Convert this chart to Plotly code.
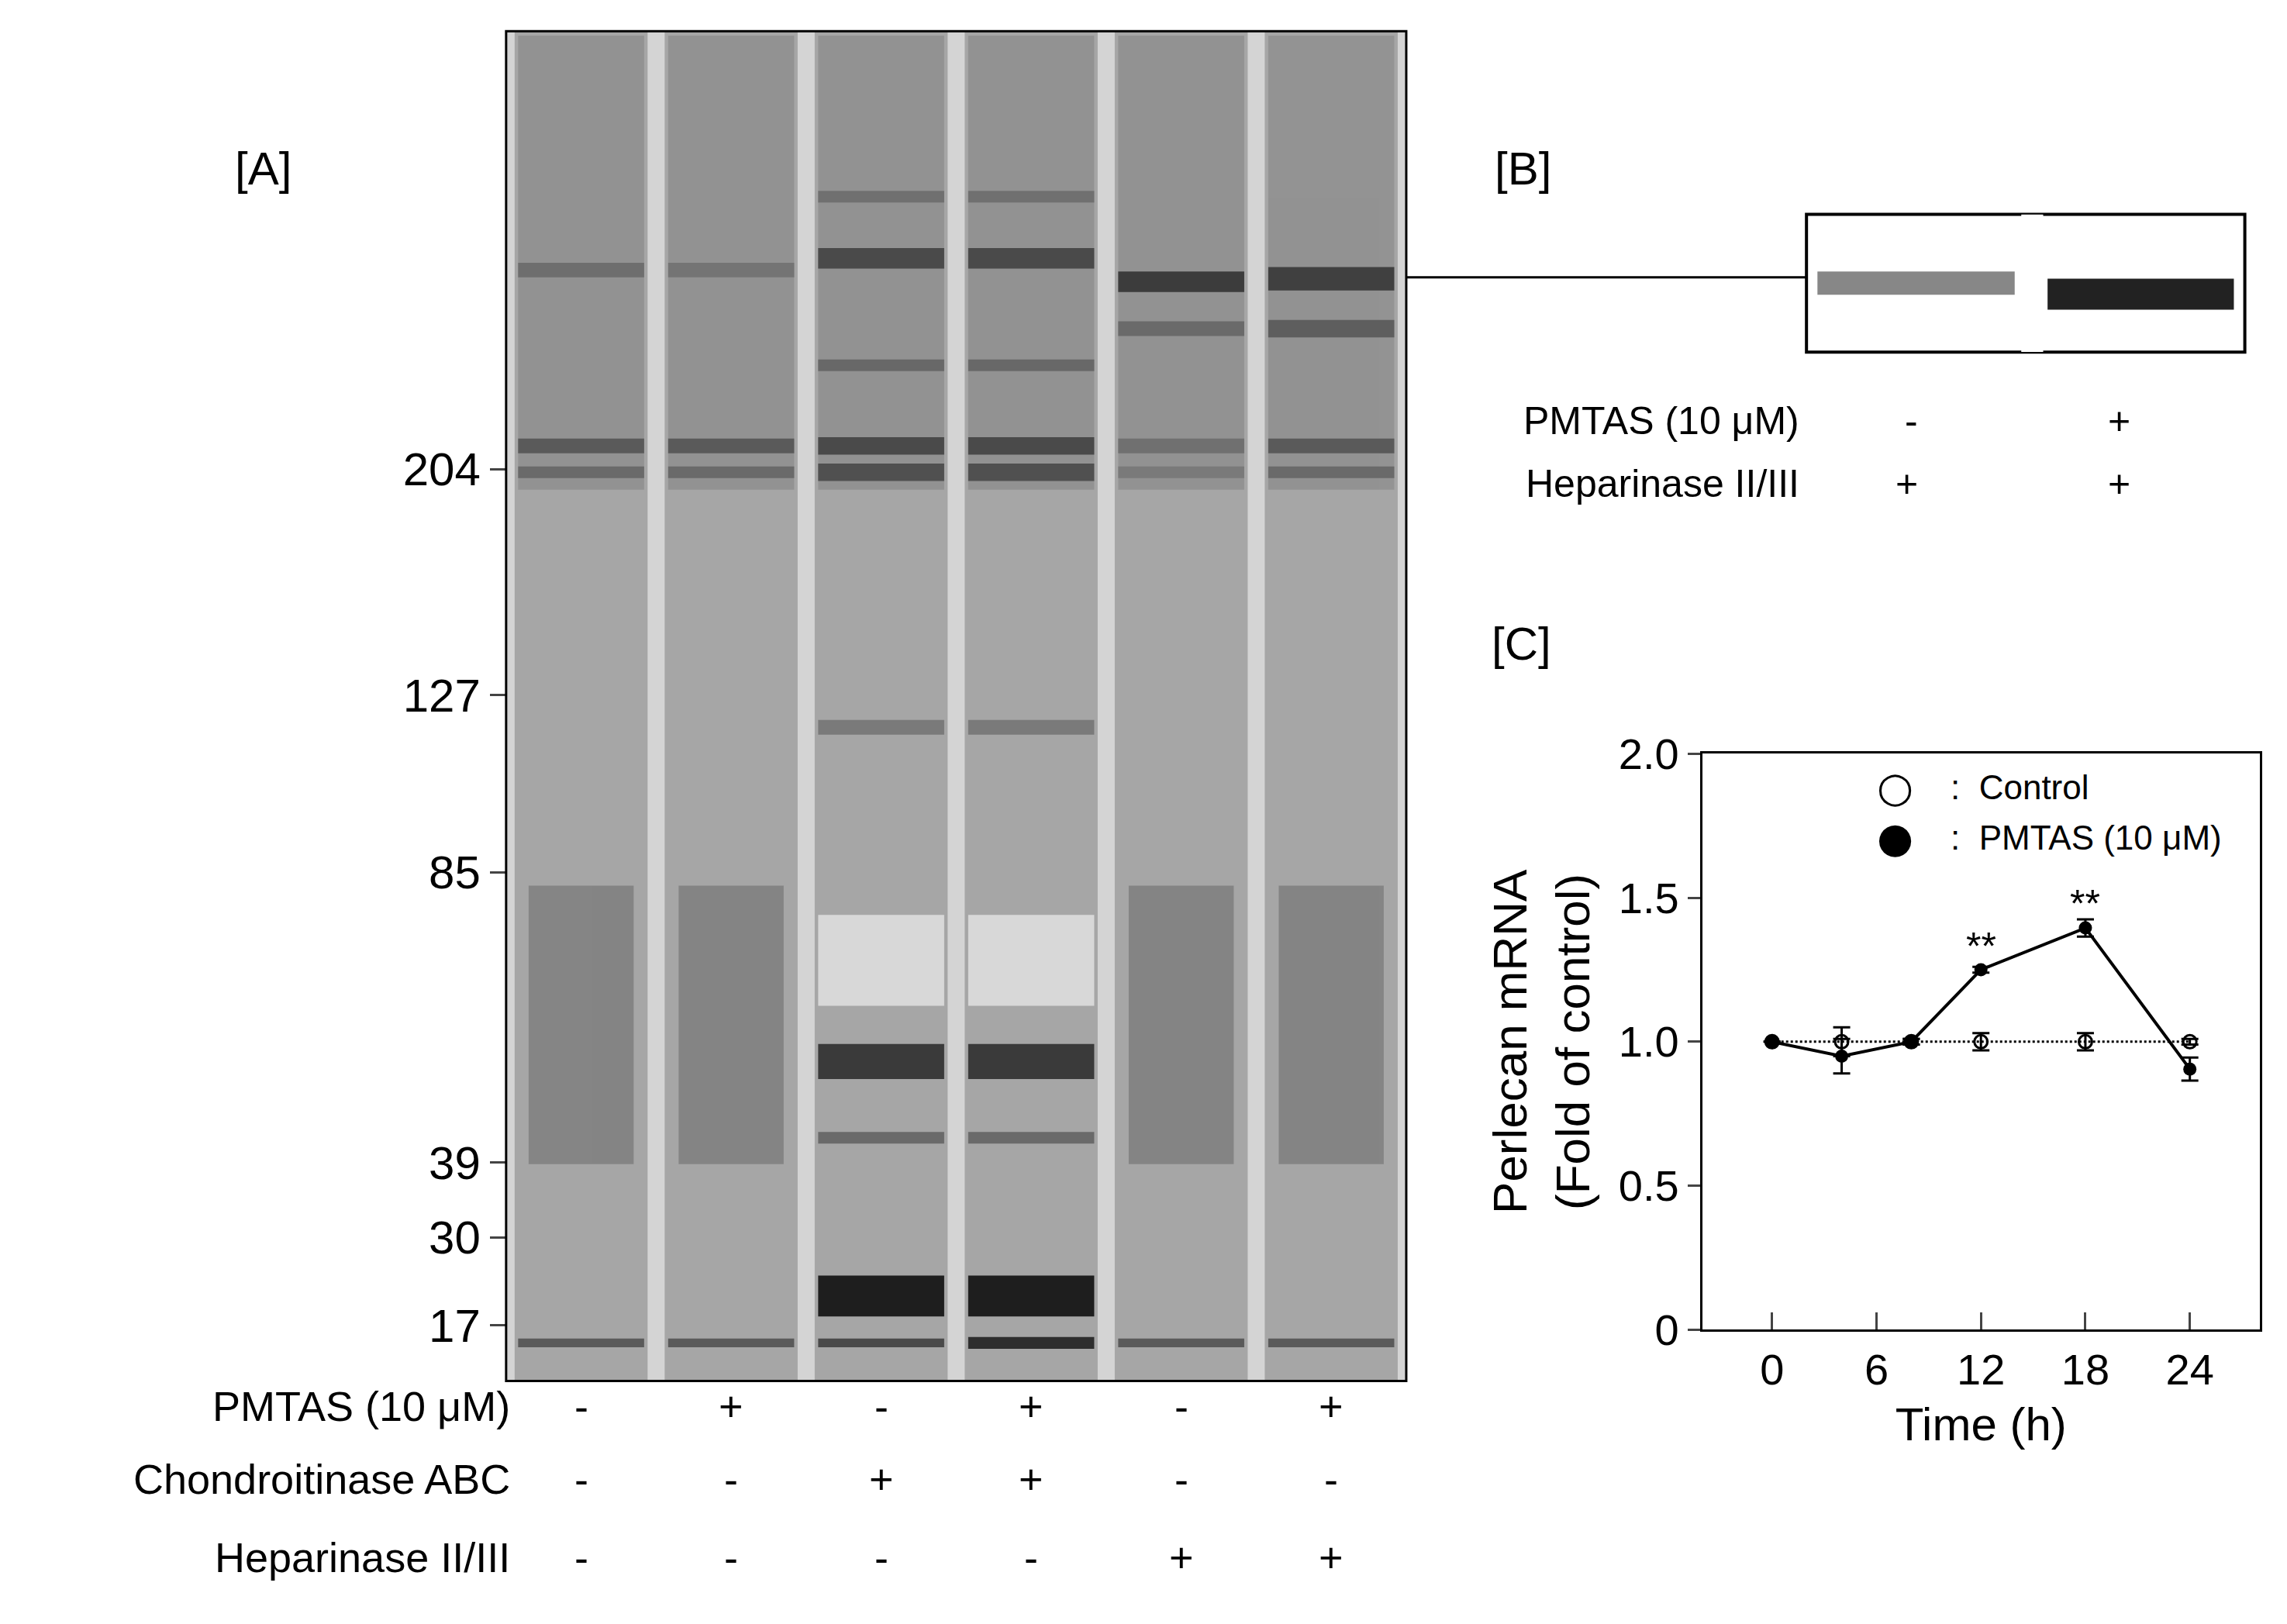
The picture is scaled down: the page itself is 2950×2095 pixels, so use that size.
import plotly.graph_objects as go

# ---- panel C data ----
time_h = [0, 4, 8, 12, 18, 24]
control = [1.0, 1.0, 1.0, 1.0, 1.0, 1.0]
control_err = [0.0, 0.05, 0.01, 0.03, 0.03, 0.01]
pmtas = [1.0, 0.95, 1.0, 1.25, 1.395, 0.905]
pmtas_err = [0.0, 0.06, 0.01, 0.01, 0.03, 0.04]
signif_x = [12, 18]
signif_y = [1.33, 1.48]

# ---- panel A gel (positions in reference pixel rows) ----
lanes = [1, 2, 3, 4, 5, 6]
marker_kda = ["204", "127", "85", "39", "30", "17"]
marker_row = [316, 470, 591, 789, 840, 900]
# (lane, row, thickness, colour)
gel_bands = [
    (1, 180, 10, "#6e6e6e"), (2, 180, 10, "#747474"), (3, 172, 14, "#4a4a4a"),
    (4, 172, 14, "#4a4a4a"), (5, 188, 14, "#3c3c3c"), (6, 186, 16, "#404040"),
    (1, 300, 10, "#5a5a5a"), (2, 300, 10, "#5a5a5a"), (3, 300, 12, "#4a4a4a"),
    (4, 300, 12, "#4a4a4a"), (5, 300, 10, "#707070"), (6, 300, 10, "#5a5a5a"),
    (1, 318, 8, "#6a6a6a"), (2, 318, 8, "#6a6a6a"), (3, 318, 12, "#505050"),
    (4, 318, 12, "#505050"), (5, 318, 8, "#7a7a7a"), (6, 318, 8, "#6a6a6a"),
    (3, 130, 8, "#707070"), (4, 130, 8, "#707070"), (3, 245, 8, "#686868"), (4, 245, 8, "#686868"),
    (5, 220, 10, "#6a6a6a"), (6, 220, 12, "#5e5e5e"),
    (3, 492, 10, "#7a7a7a"), (4, 492, 10, "#7a7a7a"),
    (3, 720, 24, "#3a3a3a"), (4, 720, 24, "#3a3a3a"),
    (3, 772, 8, "#6a6a6a"), (4, 772, 8, "#6a6a6a"),
    (3, 880, 28, "#1e1e1e"), (4, 880, 28, "#1e1e1e"),
    (1, 912, 6, "#5a5a5a"), (2, 912, 6, "#5a5a5a"), (3, 912, 6, "#4a4a4a"),
    (4, 912, 8, "#2e2e2e"), (5, 912, 6, "#5a5a5a"), (6, 912, 6, "#5a5a5a"),
]
upper_shade_top, upper_shade_bottom = 20, 330
smear_lanes = [1, 2, 5, 6]
smear_top, smear_bottom = 600, 790
clear_lanes = [3, 4]
clear_top, clear_bottom = 620, 682

row_labels = ["PMTAS (10 μM)", "Chondroitinase ABC", "Heparinase II/III"]
row_y = [972, 1022, 1075]
signs = [["-", "+", "-", "+", "-", "+"],
         ["-", "-", "+", "+", "-", "-"],
         ["-", "-", "-", "-", "+", "+"]]

# ---- panel B ----
b_labels = ["PMTAS (10 μM)", "Heparinase II/III"]
b_row_y = [267, 310]
b_signs = [["-", "+"], ["+", "+"]]

W, H = 1560, 1108  # reference display units
def px(x): return x / W
def py(y): return 1 - y / H

FONT = "Arial, Liberation Sans, sans-serif"
fig = go.Figure()

# gel lanes
for ln in lanes:
    fig.add_trace(go.Scatter(x=[ln - 0.42, ln + 0.42], y=[(upper_shade_top + upper_shade_bottom) / 2] * 2,
                             mode="lines", line=dict(color="#7c7c7c", width=(upper_shade_bottom - upper_shade_top) * 1.89),
                             opacity=0.45, xaxis="x2", yaxis="y2", hoverinfo="skip", showlegend=False))
for i in range(len(lanes) + 1):
    fig.add_trace(go.Scatter(x=[0.5 + i, 0.5 + i], y=[17, 938], mode="lines",
                             line=dict(color="#d4d4d4", width=22), xaxis="x2", yaxis="y2",
                             hoverinfo="skip", showlegend=False))
for ln in smear_lanes:
    fig.add_trace(go.Scatter(x=[ln - 0.35, ln + 0.35], y=[(smear_top + smear_bottom) / 2] * 2,
                             mode="lines", line=dict(color="#6a6a6a", width=(smear_bottom - smear_top) * 1.89),
                             opacity=0.55, xaxis="x2", yaxis="y2", hoverinfo="skip", showlegend=False))
for ln in clear_lanes:
    fig.add_trace(go.Scatter(x=[ln - 0.42, ln + 0.42], y=[(clear_top + clear_bottom) / 2] * 2,
                             mode="lines", line=dict(color="#d8d8d8", width=(clear_bottom - clear_top) * 1.89),
                             xaxis="x2", yaxis="y2", hoverinfo="skip", showlegend=False))
for ln, row, th, col in gel_bands:
    fig.add_trace(go.Scatter(x=[ln - 0.42, ln + 0.42], y=[row, row], mode="lines",
                             line=dict(color=col, width=th * 1.89), xaxis="x2", yaxis="y2",
                             hoverinfo="skip", showlegend=False))

# panel B blot
fig.add_trace(go.Scatter(x=[0.05, 0.95], y=[0.5, 0.5], mode="lines", line=dict(color="#555", width=30),
                         opacity=0.7, xaxis="x3", yaxis="y3", hoverinfo="skip", showlegend=False))
fig.add_trace(go.Scatter(x=[1.1, 1.95], y=[0.42, 0.42], mode="lines", line=dict(color="#222", width=40),
                         xaxis="x3", yaxis="y3", hoverinfo="skip", showlegend=False))

# panel C
fig.add_trace(go.Scatter(x=time_h, y=control, mode="lines+markers", name="Control",
                         line=dict(color="black", width=3, dash="dot"),
                         marker=dict(symbol="circle-open", size=17, color="black", line=dict(width=3)),
                         error_y=dict(type="data", array=control_err, color="black", thickness=3, width=11),
                         showlegend=False))
fig.add_trace(go.Scatter(x=time_h, y=pmtas, mode="lines+markers", name="PMTAS (10 μM)",
                         line=dict(color="black", width=4),
                         marker=dict(symbol="circle", size=17, color="black"),
                         error_y=dict(type="data", array=pmtas_err, color="black", thickness=3, width=11),
                         showlegend=False))
for sx, sy in zip(signif_x, signif_y):
    fig.add_annotation(x=sx, y=sy, text="**", showarrow=False, font=dict(size=50, family=FONT, color="black"))

ann = []
big = 60
for t, x, y in [("[A]", 155, 92), ("[B]", 1055, 92), ("[C]", 1055, 435)]:
    ann.append(dict(x=px(x), y=py(y), xref="paper", yref="paper", text=t, showarrow=False,
                    font=dict(size=big, family=FONT)))
for lbl, y in zip(row_labels, row_y):
    ann.append(dict(x=px(345), y=py(y), xref="paper", yref="paper", text=lbl, showarrow=False,
                    xanchor="right", font=dict(size=54, family=FONT)))
for srow, y in zip(signs, row_y):
    for ln, s in zip(lanes, srow):
        ann.append(dict(x=ln, y=py(y), xref="x2", yref="paper", text=s, showarrow=False,
                        font=dict(size=54, family=FONT)))
for lbl, y, srow in zip(b_labels, b_row_y, b_signs):
    ann.append(dict(x=px(1224), y=py(y), xref="paper", yref="paper", text=lbl, showarrow=False,
                    xanchor="right", font=dict(size=50, family=FONT)))
    for xs, s in zip([1305, 1450], srow):
        ann.append(dict(x=px(xs), y=py(y), xref="paper", yref="paper", text=s, showarrow=False,
                        font=dict(size=50, family=FONT)))
# legend text for C
for t, y, sym in [(":  Control", 533, "○"), (":  PMTAS (10 μM)", 567, "●")]:
    ann.append(dict(x=px(1302), y=py(y), xref="paper", yref="paper", text=sym, showarrow=False,
                    font=dict(size=54, family="DejaVu Sans")))
    ann.append(dict(x=px(1325), y=py(y), xref="paper", yref="paper", text=t, showarrow=False,
                    xanchor="left", font=dict(size=44, family=FONT)))
for a in ann:
    fig.add_annotation(**a)

shapes = [
    dict(type="line", xref="paper", yref="paper", x0=px(955), x1=px(1228), y0=py(185), y1=py(185),
         line=dict(color="black", width=3)),
    dict(type="rect", xref="paper", yref="paper", x0=px(341), x1=px(955), y0=py(938), y1=py(17),
         line=dict(color="black", width=3)),
    dict(type="rect", xref="paper", yref="paper", x0=px(1228), x1=px(1527), y0=py(236), y1=py(142),
         line=dict(color="black", width=4)),
]

fig.update_layout(
    width=2950, height=2095, margin=dict(l=0, r=0, t=0, b=0, autoexpand=False),
    paper_bgcolor="white", plot_bgcolor="white", showlegend=False, shapes=shapes,
    font=dict(family=FONT, color="black"),
    xaxis=dict(domain=[px(1157), px(1537)], range=[-4, 28], tickvals=[0, 6, 12, 18, 24],
               ticks="inside", ticklen=22, tickwidth=3, showgrid=False, zeroline=False,
               showline=True, mirror=True, linecolor="black", linewidth=3, automargin=False,
               tickfont=dict(size=56), title=dict(text="Time (h)", font=dict(size=60), standoff=20)),
    yaxis=dict(domain=[py(903), py(510)], range=[0, 2.0], tickvals=[0, 0.5, 1.0, 1.5, 2.0],
               ticktext=["0", "0.5", "1.0", "1.5", "2.0"], ticks="outside", ticklen=16, tickwidth=3,
               showgrid=False, zeroline=False, showline=True, mirror=True, linecolor="black", linewidth=3,
               tickfont=dict(size=56), automargin=False,
               title=dict(text="Perlecan mRNA<br>(Fold of control)", font=dict(size=62), standoff=18)),
    xaxis2=dict(domain=[px(341), px(955)], range=[0.5, 6.5], visible=False, anchor="y2"),
    yaxis2=dict(domain=[py(938), py(17)], range=[938, 17], anchor="x2", tickvals=marker_row,
                ticktext=marker_kda, ticks="outside", ticklen=20, tickwidth=3, showgrid=False,
                zeroline=False, showline=False, tickfont=dict(size=60), automargin=False),
    xaxis3=dict(domain=[px(1228), px(1527)], range=[0, 2], visible=False, anchor="y3"),
    yaxis3=dict(domain=[py(236), py(142)], range=[0, 1], visible=False, anchor="x3"),
)
fig.add_shape(type="rect", xref="x2", yref="y2", x0=0.5, x1=6.5, y0=17, y1=938,
              fillcolor="#a6a6a6", line=dict(width=0), layer="below")
fig.add_shape(type="rect", xref="x3", yref="y3", x0=0.98, x1=1.08, y0=0, y1=1,
              fillcolor="white", line=dict(width=0), layer="above")

fig.write_html("out.html")
